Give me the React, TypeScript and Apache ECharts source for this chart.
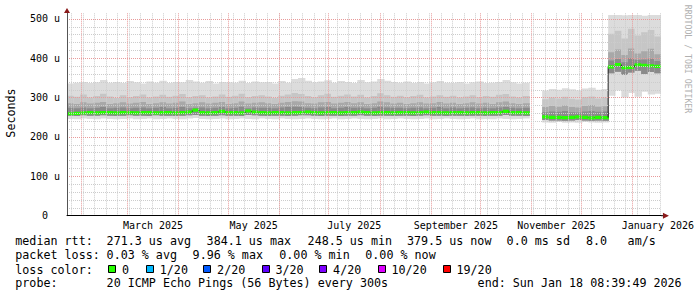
import React, { useEffect, useRef } from 'react';
import * as echarts from 'echarts';

// ---- time frame ----
const DAY = 86400000;
const END_TS = Date.UTC(2026, 0, 18, 8, 39, 49);
const SPAN_DAYS = 360;
const STEP_DAYS = 4;
const START_TS = END_TS - SPAN_DAYS * DAY;
const Y_MAX = 515;
const Y_TICKS = [0, 100, 200, 300, 400, 500];

// ---- smoke data (microseconds), one value per 4-day bucket; null = no data ----
const hiValues = [
  336, 338, 340, 337, 339, 345, 338, 340, 337, 342,
  339, 336, 341, 338, 343, 337, 340, 339, 345, 341,
  338, 342, 336, 340, 339, 338, 343, 337, 341, 339,
  340, 336, 342, 338, 347, 350, 343, 339, 341, 344,
  338, 342, 340, 337, 345, 339, 341, 347, 343, 340,
  338, 341, 337, 340, 336, 339, 342, 338, 337, 340,
  336, 339, 341, 337, 338, 340, 345, 339, 336, 338,
  null, null, 318, 322, 320, 324, 321, 319, 323, 325,
  320, 322, 510, 510, 509, 510, 510, 508, 510, 510,
];
const upper2Values = [
  305, 302, 308, 300, 304, 310, 303, 299, 306, 301,
  304, 308, 300, 303, 307, 302, 305, 309, 301, 304,
  306, 300, 303, 308, 302, 305, 310, 301, 304, 306,
  303, 299, 305, 308, 312, 309, 304, 301, 306, 310,
  302, 305, 308, 303, 307, 300, 304, 311, 306, 302,
  305, 301, 304, 307, 300, 303, 306, 302, 305, 300,
  303, 306, 301, 304, 302, 307, 309, 303, 300, 304,
  null, null, 296, 300, 298, 302, 297, 295, 301, 303,
  298, 300, 462, 470, 450, 475, 458, 466, 472, 455,
];
const upper3Values = [
  286, 284, 288, 285, 287, 289, 284, 286, 288, 285,
  287, 289, 284, 286, 288, 285, 287, 290, 284, 286,
  288, 285, 287, 289, 284, 286, 290, 285, 287, 288,
  286, 284, 287, 289, 291, 290, 286, 285, 288, 289,
  285, 287, 289, 286, 288, 284, 286, 290, 288, 285,
  287, 284, 286, 288, 285, 286, 289, 285, 287, 284,
  286, 288, 285, 287, 284, 288, 290, 286, 284, 286,
  null, null, 276, 279, 277, 280, 276, 275, 279, 281,
  277, 278, 415, 422, 408, 425, 412, 418, 424, 410,
];
const upper4Values = [
  274, 273, 275, 273, 274, 276, 273, 274, 275, 273,
  274, 275, 273, 274, 276, 273, 274, 276, 273, 274,
  275, 273, 274, 276, 273, 274, 277, 273, 275, 274,
  274, 273, 275, 276, 277, 276, 274, 273, 275, 276,
  273, 274, 276, 274, 275, 273, 274, 277, 275, 274,
  274, 273, 274, 275, 273, 274, 276, 273, 275, 273,
  274, 275, 273, 274, 273, 275, 276, 274, 273, 274,
  null, null, 263, 265, 264, 266, 263, 262, 265, 266,
  264, 265, 394, 398, 390, 400, 396, 397, 399, 393,
];
const medianValues = [
  259, 260, 261, 262, 261, 262, 262, 261, 262, 262,
  261, 262, 262, 261, 262, 262, 261, 262, 263, 268,
  262, 261, 262, 265, 262, 262, 261, 266, 263, 262,
  261, 262, 262, 261, 262, 262, 263, 262, 261, 262,
  262, 261, 262, 262, 263, 262, 261, 262, 262, 261,
  262, 262, 261, 262, 263, 262, 262, 261, 262, 262,
  261, 262, 262, 261, 262, 262, 265, 262, 262, 261,
  null, null, 251, 250, 250, 249, 250, 251, 250, 248.5,
  250, 249, 378, 384, 376, 377, 383, 382, 381, 379.5,
];
const innerLowValues = [
  254, 253, 255, 254, 254, 255, 254, 253, 254, 255,
  254, 254, 253, 255, 254, 254, 253, 254, 255, 256,
  254, 253, 254, 255, 254, 254, 253, 256, 255, 254,
  253, 254, 254, 253, 254, 255, 255, 254, 253, 254,
  254, 253, 254, 254, 255, 254, 253, 254, 254, 253,
  254, 254, 253, 254, 255, 254, 254, 253, 254, 254,
  253, 254, 254, 253, 254, 254, 256, 254, 254, 253,
  null, null, 243, 242, 242, 241, 242, 243, 242, 241,
  242, 241, 362, 366, 358, 364, 368, 360, 365, 362,
];
const loValues = [
  246, 245, 247, 246, 245, 247, 246, 245, 246, 247,
  245, 246, 247, 245, 246, 247, 246, 245, 247, 248,
  246, 245, 246, 247, 245, 246, 247, 246, 245, 247,
  246, 245, 247, 246, 245, 246, 247, 246, 245, 246,
  247, 245, 246, 247, 246, 245, 246, 247, 245, 246,
  247, 246, 245, 246, 247, 245, 246, 247, 246, 245,
  246, 247, 245, 246, 245, 247, 246, 245, 246, 247,
  null, null, 237, 236, 238, 236, 237, 236, 238, 237,
  236, 237, 305, 318, 300, 312, 302, 315, 308, 310,
];

// ---- axis / grid positions ----
const monthStarts = [
  '2025-02-01', '2025-03-01', '2025-04-01', '2025-05-01', '2025-06-01', '2025-07-01',
  '2025-08-01', '2025-09-01', '2025-10-01', '2025-11-01', '2025-12-01', '2026-01-01',
];
const labelMonths = ['2025-03', '2025-05', '2025-07', '2025-09', '2025-11', '2026-01'];
const labelTexts = ['March 2025', 'May 2025', 'July 2025', 'September 2025', 'November 2025', 'January 2026'];
const FIRST_WEEK = '2025-01-26';

// ---- legend ----
const legendRows = [
  { y: 241.3, items: [[16, 'median rtt:'], [107.3, '271.3 us avg'], [207.3, '384.1 us max'], [308.3, '248.5 us min'], [407.7, '379.5 us now'], [507.3, '0.0 ms sd'], [586.7, '8.0'], [628.3, 'am/s']] },
  { y: 255.3, items: [[16, 'packet loss:'], [107.3, '0.03 % avg'], [193.3, '9.96 % max'], [280, '0.00 % min'], [366, '0.00 % now']] },
  { y: 269.5, items: [[16, 'loss color:']] },
  { y: 283.3, items: [[16, 'probe:'], [107.3, '20 ICMP Echo Pings (56 Bytes) every 300s'], [478.3, 'end: Sun Jan 18 08:39:49 2026']] },
];
const lossLabels = ['0', '1/20', '2/20', '3/20', '4/20', '10/20', '19/20'];
const lossColors = ['#26ff00', '#00b8ff', '#0059ff', '#5e00ff', '#7e00ff', '#dd00ff', '#ff0000'];
const lossBoxX = [108.3, 146, 203.3, 261.7, 319.3, 377.7, 442.7];

const smokeColors = ['#dcdcdc', '#c6c6c6', '#a8a8a8', '#8a8a8a'];
const FONT = '"DejaVu Sans Mono", monospace';

const parseDay = (s: string) => {
  const [y, m, d] = s.split('-').map(Number);
  return Date.UTC(y, m - 1, d || 1);
};
const toDays = (ts: number) => (ts - START_TS) / DAY;

export default function App() {
  const ref = useRef<HTMLDivElement>(null);
  useEffect(() => {
    if (!ref.current) return;
    const chart = echarts.init(ref.current, undefined, { renderer: 'svg' });

    // one row per bucket: [dayStart, dayEnd, lo, innerLow, median, u4, u3, u2, hi, prevMedian]
    const rows: (number | null)[][] = [];
    hiValues.forEach((hi, i) => {
      if (hi == null) return;
      const prev = i > 0 ? medianValues[i - 1] : null;
      rows.push([
        i * STEP_DAYS, (i + 1) * STEP_DAYS, loValues[i], innerLowValues[i], medianValues[i],
        upper4Values[i], upper3Values[i], upper2Values[i], hi, prev == null ? NaN : prev,
      ]);
    });

    const renderSmoke = (params: any, api: any) => {
      const x0 = api.value(0);
      const x1 = api.value(1);
      const px0 = api.coord([x0, 0])[0];
      const px1 = api.coord([x1, 0])[0] + 0.8;
      const layerDims = [[2, 8], [3, 7], [3, 6], [3, 5]];
      const children: any[] = layerDims.map(([loDim, hiDim], k) => {
        const yTop = api.coord([x0, api.value(hiDim)])[1];
        const yBot = api.coord([x0, api.value(loDim)])[1];
        return { type: 'rect', shape: { x: px0, y: yTop, width: px1 - px0, height: yBot - yTop }, style: { fill: smokeColors[k] } };
      });
      const yMed = api.coord([x0, api.value(4)])[1];
      const prev = api.value(9);
      if (prev != null && !isNaN(prev)) {
        const yPrev = api.coord([x0, prev])[1];
        children.push({ type: 'line', shape: { x1: px0, y1: yPrev, x2: px0, y2: yMed }, style: { stroke: '#202020', lineWidth: 1 } });
      }
      children.push({ type: 'rect', shape: { x: px0, y: yMed - 1.6, width: px1 - px0, height: 3.2 }, style: { fill: lossColors[0] } });
      return { type: 'group', children };
    };

    const labelPos = labelMonths.map((s) => {
      const [y, m] = s.split('-').map(Number);
      return toDays((Date.UTC(y, m - 1, 1) + Date.UTC(y, m, 1)) / 2);
    });
    const weekLines: number[] = [];
    for (let t = parseDay(FIRST_WEEK); t < END_TS; t += 7 * DAY) weekLines.push(toDays(t));

    const markData = [
      ...weekLines.map((d) => ({ xAxis: d, lineStyle: { color: '#cccccc', type: [1, 1], width: 1 } })),
      ...monthStarts.map((s) => ({ xAxis: toDays(parseDay(s)), lineStyle: { color: '#e89a9a', type: [1, 1], width: 1 } })),
    ];

    chart.setOption({
      animation: false,
      backgroundColor: '#ffffff',
      grid: { left: 67, right: 30, top: 13, bottom: 81.3, containLabel: false },
      xAxis: {
        type: 'value', min: 0, max: SPAN_DAYS, z: 10,
        axisLine: { show: true, onZero: false, lineStyle: { color: '#000000', width: 1 } },
        axisTick: { show: false },
        splitLine: { show: false },
        axisLabel: {
          customValues: labelPos,
          formatter: (v: number) => {
            const idx = labelPos.findIndex((p) => Math.abs(p - v) < 0.5);
            return idx >= 0 ? labelTexts[idx] : '';
          },
          color: '#000', fontFamily: FONT, fontSize: 10, margin: 5, hideOverlap: false,
        },
      },
      yAxis: [
        {
          type: 'value', min: 0, max: Y_MAX, interval: 100, z: 10,
          axisLine: { show: true, lineStyle: { color: '#555555', width: 1 } },
          axisTick: { show: false },
          axisLabel: {
            formatter: (v: number) => (Y_TICKS.indexOf(v) < 0 ? '' : v === 0 ? '0\u00a0\u00a0' : `${v} u`),
            color: '#000', fontFamily: FONT, fontSize: 10, margin: 7, showMaxLabel: false,
          },
          splitLine: { show: true, showMinLine: false, showMaxLine: false, lineStyle: { color: '#e89a9a', type: [1, 1], width: 1 } },
        },
        {
          type: 'value', min: 0, max: Y_MAX, interval: 20, z: 9,
          axisLine: { show: false }, axisTick: { show: false }, axisLabel: { show: false },
          splitLine: { show: true, showMinLine: false, showMaxLine: false, lineStyle: { color: '#cccccc', type: [1, 1], width: 1 } },
        },
      ],
      series: [
        {
          type: 'custom', name: 'smoke', data: rows, renderItem: renderSmoke, silent: true, clip: true,
          encode: { x: [0, 1], y: [2, 8] },
        },
        {
          type: 'line', name: 'grid', data: [], z: 9, silent: true,
          markLine: { silent: true, symbol: ['none', 'none'], label: { show: false }, animation: false, data: markData },
        },
      ],
    });

    const topLeft = chart.convertToPixel({ gridIndex: 0 }, [0, Y_MAX]) as number[];
    const botRight = chart.convertToPixel({ gridIndex: 0 }, [SPAN_DAYS, 0]) as number[];
    const graphics: any[] = [];
    graphics.push({
      type: 'polygon', silent: true, z: 20,
      shape: { points: [[topLeft[0], topLeft[1] - 5], [topLeft[0] - 3, topLeft[1]], [topLeft[0] + 3, topLeft[1]]] },
      style: { fill: '#8b1a1a' },
    });
    graphics.push({
      type: 'line', silent: true, z: 20,
      shape: { x1: botRight[0], y1: botRight[1], x2: botRight[0] + 3, y2: botRight[1] },
      style: { stroke: '#000', lineWidth: 1 },
    });
    graphics.push({
      type: 'polygon', silent: true, z: 20,
      shape: { points: [[botRight[0] + 8, botRight[1]], [botRight[0] + 2, botRight[1] - 3], [botRight[0] + 2, botRight[1] + 3]] },
      style: { fill: '#8b1a1a' },
    });
    graphics.push({
      type: 'text', x: 10.5, y: 113, rotation: Math.PI / 2, silent: true,
      style: { text: 'Seconds', fill: '#000', fontFamily: FONT, fontSize: 11.7, align: 'center', verticalAlign: 'middle' },
    });
    graphics.push({
      type: 'text', x: 688.3, y: 59, rotation: -Math.PI / 2, silent: true,
      style: { text: 'RRDTOOL / TOBI OETIKER', fill: '#b0b0b0', fontFamily: FONT, fontSize: 8.2, align: 'center', verticalAlign: 'middle' },
    });
    legendRows.forEach((row) => {
      row.items.forEach(([x, t]) => {
        graphics.push({
          type: 'text', x: (x as number) - 0.7, y: row.y, silent: true,
          style: { text: t as string, fill: '#000', fontFamily: FONT, fontSize: 11.7, align: 'left', verticalAlign: 'middle' },
        });
      });
    });
    lossLabels.forEach((lab, i) => {
      graphics.push({
        type: 'rect', silent: true,
        shape: { x: Math.round(lossBoxX[i]) + 0.5, y: 265.5, width: 7, height: 7 },
        style: { fill: lossColors[i], stroke: '#000', lineWidth: 1 },
      });
      graphics.push({
        type: 'text', x: lossBoxX[i] + 14.5 - 0.7, y: 269.5, silent: true,
        style: { text: lab, fill: '#000', fontFamily: FONT, fontSize: 11.7, align: 'left', verticalAlign: 'middle' },
      });
    });
    chart.setOption({ graphic: graphics });

    return () => chart.dispose();
  }, []);
  return <div ref={ref} style={{ position: 'fixed', left: 0, top: 0, width: 697, height: 297 }} />;
}
